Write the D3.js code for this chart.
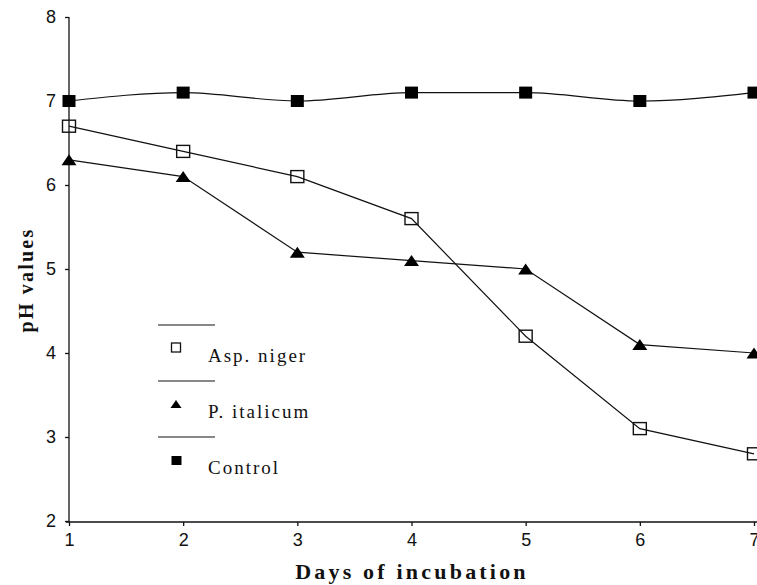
<!DOCTYPE html>
<html>
<head>
<meta charset="utf-8">
<script src="https://cdn.jsdelivr.net/npm/d3@7/dist/d3.min.js"></script>
<style>
  html, body { margin: 0; padding: 0; background: #fff; }
  svg { display: block; }
</style>
</head>
<body>
<svg id="chart" width="757" height="585"></svg>
<script>
const days = [1, 2, 3, 4, 5, 6, 7];
const aspNiger = [6.7, 6.4, 6.1, 5.6, 4.2, 3.1, 2.8];
const pItalicum = [6.3, 6.1, 5.2, 5.1, 5.0, 4.1, 4.0];
const control = [7.0, 7.1, 7.0, 7.1, 7.1, 7.0, 7.1];
const yTicks = [2, 3, 4, 5, 6, 7, 8];
const xTicks = [1, 2, 3, 4, 5, 6, 7];
const seriesNames = ["Asp. niger", "P. italicum", "Control"];

const svg = d3.select("#chart");
const x = d3.scaleLinear().domain([1, 7]).range([69, 754]);
const y = d3.scaleLinear().domain([2, 8]).range([521, 17]);
const serif = "Liberation Serif, DejaVu Serif, Times New Roman, serif";
const sans = "Liberation Sans, Arial, sans-serif";

// axes
const yAxis = svg.append("g").attr("transform", "translate(69,0)")
  .call(d3.axisLeft(y).tickValues(yTicks).tickFormat(d3.format("d")).tickSize(4).tickSizeOuter(0).tickPadding(9));
yAxis.select(".domain").attr("d", "M0,17V522");
const xAxis = svg.append("g").attr("transform", "translate(0,522)")
  .call(d3.axisBottom(x).tickValues(xTicks).tickFormat(d3.format("d")).tickSize(4).tickSizeOuter(0).tickPadding(7));
xAxis.select(".domain").attr("d", "M66,0H757");
svg.selectAll(".tick text").attr("font-family", sans).attr("font-size", 18).attr("fill", "#111");
svg.selectAll(".domain, .tick line").attr("stroke", "#111").attr("stroke-width", 1.3);

// axis titles
svg.append("text").attr("x", 412).attr("y", 579).attr("text-anchor", "middle")
  .attr("font-family", serif).attr("font-weight", "bold").attr("font-size", 22)
  .attr("letter-spacing", 3.2).attr("fill", "#111").text("Days of incubation");
svg.append("text").attr("transform", "translate(33,280) rotate(-90)").attr("text-anchor", "middle")
  .attr("font-family", serif).attr("font-weight", "bold").attr("font-size", 20)
  .attr("letter-spacing", 2.2).attr("fill", "#111").text("pH values");

// lines
const line = d3.line().x((d, i) => x(days[i])).y(d => y(d));
const smooth = d3.line().x((d, i) => x(days[i])).y(d => y(d)).curve(d3.curveMonotoneX);
svg.append("path").datum(aspNiger).attr("d", line).attr("fill", "none").attr("stroke", "#111").attr("stroke-width", 1.2);
svg.append("path").datum(pItalicum).attr("d", line).attr("fill", "none").attr("stroke", "#111").attr("stroke-width", 1.2);
svg.append("path").datum(control).attr("d", smooth).attr("fill", "none").attr("stroke", "#111").attr("stroke-width", 1.2);

// markers
const sqW = 13, sqH = 12;
svg.selectAll(".asp").data(aspNiger).enter().append("rect")
  .attr("x", (d, i) => x(days[i]) - sqW / 2).attr("y", d => y(d) - sqH / 2)
  .attr("width", sqW).attr("height", sqH).attr("fill", "none").attr("stroke", "#111").attr("stroke-width", 1.4);
const tri = (cx, cy, w, h) => `M${cx},${cy - h / 2}L${cx + w / 2},${cy + h / 2}L${cx - w / 2},${cy + h / 2}Z`;
svg.selectAll(".pit").data(pItalicum).enter().append("path")
  .attr("d", (d, i) => tri(x(days[i]), y(d), 15, 11)).attr("fill", "#000");
svg.selectAll(".ctl").data(control).enter().append("rect")
  .attr("x", (d, i) => x(days[i]) - sqW / 2).attr("y", d => y(d) - sqH / 2)
  .attr("width", sqW).attr("height", sqH).attr("fill", "#000");

// legend
const legY = [325, 381, 437];
const leg = svg.append("g");
legY.forEach((ly, i) => {
  leg.append("line").attr("x1", 158).attr("x2", 215).attr("y1", ly).attr("y2", ly)
    .attr("stroke", "#111").attr("stroke-width", 1.2);
  leg.append("text").attr("x", 208).attr("y", ly + 37)
    .attr("font-family", serif).attr("font-size", 19).attr("letter-spacing", 2)
    .attr("fill", "#111").text(seriesNames[i]);
});
leg.append("rect").attr("x", 171.5).attr("y", 343).attr("width", 9).attr("height", 9)
  .attr("fill", "none").attr("stroke", "#111").attr("stroke-width", 1.3);
leg.append("path").attr("d", tri(176, 404, 11, 8)).attr("fill", "#000");
leg.append("rect").attr("x", 171.5).attr("y", 456).attr("width", 10).attr("height", 9).attr("fill", "#000");
</script>
</body>
</html>
